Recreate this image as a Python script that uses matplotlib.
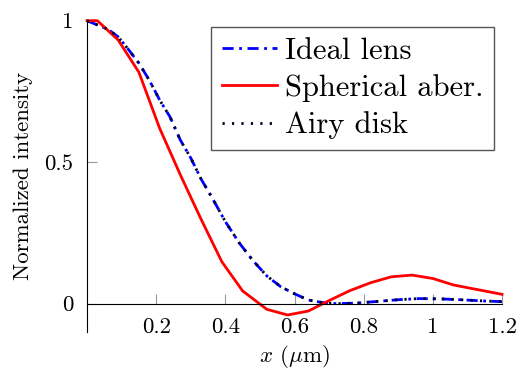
import matplotlib
matplotlib.use("Agg")
import matplotlib.pyplot as plt

plt.rcParams['font.family'] = 'serif'
plt.rcParams['font.serif'] = ['cmr10']
plt.rcParams['mathtext.fontset'] = 'cm'
plt.rcParams['axes.formatter.use_mathtext'] = True

# ideal lens (blue dash-dot)
x_ideal = [0, 0.06, 0.09, 0.12, 0.15, 0.18, 0.21, 0.24, 0.27, 0.30, 0.33, 0.36,
           0.40, 0.44, 0.48, 0.52, 0.56, 0.60, 0.64, 0.68, 0.72, 0.78, 0.84,
           0.90, 0.96, 1.02, 1.08, 1.14, 1.2]
y_ideal = [1.0, 0.97, 0.943, 0.898, 0.85, 0.79, 0.72, 0.66, 0.578, 0.515, 0.44, 0.378,
           0.29, 0.215, 0.152, 0.098, 0.06, 0.035, 0.013, 0.004, 0.0, 0.002, 0.008,
           0.014, 0.018, 0.017, 0.014, 0.010, 0.007]

# airy disk (black dotted), practically on top of the ideal lens
x_airy = list(x_ideal)
y_airy = list(y_ideal)

# spherical aberration (red)
x_sph = [0, 0.03, 0.09, 0.15, 0.21, 0.27, 0.33, 0.39, 0.45, 0.52, 0.58, 0.64,
         0.70, 0.76, 0.82, 0.88, 0.94, 1.0, 1.06, 1.2]
y_sph = [1.0, 1.0, 0.932, 0.818, 0.62, 0.455, 0.298, 0.148, 0.045, -0.02, -0.04, -0.026,
         0.011, 0.046, 0.074, 0.095, 0.101, 0.089, 0.066, 0.033]

fig = plt.figure(figsize=(5.16, 3.73), dpi=100)
ax = fig.add_axes([0.1686, 0.110, 0.8043, 0.8345])

ax.plot(x_ideal, y_ideal, color='blue', lw=2.0, dashes=(4, 2, 1, 2),
        label='Ideal lens', clip_on=False)
ax.plot(x_sph, y_sph, color='red', lw=2.0, label='Spherical aber.', clip_on=False)
ax.plot(x_airy, y_airy, color='#000022', lw=2.0, dashes=(0.8, 2.6),
        label='Airy disk', clip_on=False)

ax.set_xlim(0, 1.2)
ax.set_ylim(-0.1, 1)

ax.spines['top'].set_visible(False)
ax.spines['right'].set_visible(False)
ax.spines['bottom'].set_position(('data', 0))

ax.set_xticks([0.2, 0.4, 0.6, 0.8, 1.0, 1.2], labels=['0.2', '0.4', '0.6', '0.8', '1', '1.2'])
ax.set_yticks([0, 0.5, 1], labels=['0', '0.5', '1'])
ax.tick_params(axis='x', direction='in', length=7, color='#999999', pad=10, labelsize=16.5)
ax.tick_params(axis='y', direction='in', length=7.5, color='#999999', pad=10, labelsize=16.5)

ax.set_xlabel(r'$x$ ($\mu$m)', fontsize=16.5, labelpad=4)
ax.set_ylabel('Normalized intensity', fontsize=16.5, labelpad=8)

leg = ax.legend(loc='upper right', bbox_to_anchor=(0.98, 0.98), fontsize=22,
                fancybox=False, edgecolor='#555555', framealpha=1,
                handlelength=1.8, handletextpad=0.25, labelspacing=0.3,
                borderpad=0.35, borderaxespad=0)
leg.get_frame().set_linewidth(1.0)

fig.savefig('out.png', dpi=100)
